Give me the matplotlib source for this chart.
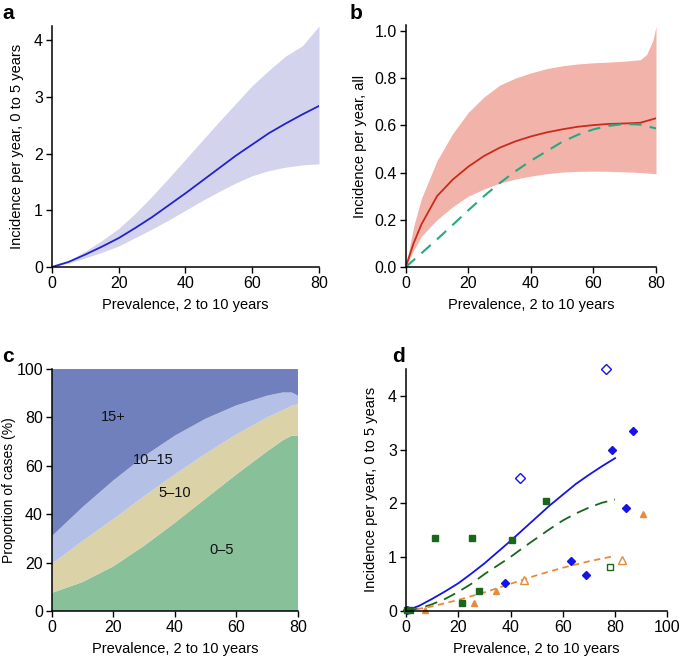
import numpy as np
import matplotlib
matplotlib.use('Agg')
import matplotlib.pyplot as plt

plt.rcParams['font.family'] = ['Liberation Sans', 'DejaVu Sans']

# ---- panel a: incidence 0-5 years vs prevalence ----
prev_a = [0, 5, 10, 15, 20, 25, 30, 35, 40, 45, 50, 55, 60, 65, 70, 75, 80]
inc_a_mean = [0, 0.09, 0.22, 0.36, 0.51, 0.69, 0.88, 1.09, 1.30, 1.52, 1.74, 1.96, 2.16, 2.36, 2.53, 2.69, 2.84]
inc_a_hi = [0, 0.11, 0.28, 0.47, 0.68, 0.95, 1.25, 1.57, 1.90, 2.23, 2.56, 2.88, 3.20, 3.47, 3.72, 3.90, 4.25]
inc_a_lo = [0, 0.07, 0.16, 0.26, 0.37, 0.52, 0.67, 0.83, 1.00, 1.17, 1.33, 1.48, 1.61, 1.70, 1.76, 1.80, 1.82]

# ---- panel b: incidence all ages ----
prev_b = [0, 2.5, 5, 10, 15, 20, 25, 30, 35, 40, 45, 50, 55, 60, 65, 70, 75, 77, 79, 80]
inc_b_hi = [0, 0.17, 0.29, 0.45, 0.565, 0.655, 0.72, 0.77, 0.80, 0.822, 0.84, 0.852, 0.86, 0.865, 0.868, 0.872, 0.878, 0.90, 0.96, 1.02]
inc_b_lo = [0, 0.07, 0.13, 0.20, 0.255, 0.30, 0.33, 0.355, 0.372, 0.385, 0.395, 0.402, 0.405, 0.406, 0.405, 0.403, 0.40, 0.398, 0.396, 0.395]
prev_b_line = [0, 2.5, 5, 10, 15, 20, 25, 30, 35, 40, 45, 50, 55, 60, 65, 70, 75, 80]
inc_b_mean = [0, 0.10, 0.18, 0.30, 0.37, 0.425, 0.47, 0.505, 0.532, 0.553, 0.57, 0.583, 0.594, 0.601, 0.606, 0.608, 0.611, 0.63]
inc_b_alt = [0, 0.029, 0.058, 0.117, 0.178, 0.24, 0.30, 0.355, 0.405, 0.45, 0.49, 0.53, 0.56, 0.583, 0.598, 0.606, 0.603, 0.587]

# ---- panel c: proportion of cases by age group ----
prev_c = [0, 10, 20, 30, 40, 50, 60, 70, 75, 78, 80]
share_0_5 = [7.5, 12, 18.5, 27, 36.5, 46.5, 56.5, 66, 70.5, 72.5, 72.3]
share_5_10 = [12, 17, 19.5, 20.5, 20, 18.5, 16.5, 14, 12.5, 12.3, 13.2]
share_10_15 = [11.5, 14, 16, 16.5, 16, 14.5, 12, 9, 7.3, 5.5, 3.5]
share_15p = [69, 57, 46, 36, 27.5, 20.5, 15, 11, 9.7, 9.7, 11]
age_groups = ['0\u20135', '5\u201310', '10\u201315', '15+']

# ---- panel d: observed incidence 0-5 years ----
prev_d_line = [0, 5, 10, 15, 20, 25, 30, 35, 40, 45, 50, 55, 60, 65, 70, 75, 80]
fit_blue = [0, 0.09, 0.22, 0.36, 0.51, 0.69, 0.88, 1.09, 1.30, 1.52, 1.74, 1.96, 2.16, 2.36, 2.53, 2.69, 2.84]
fit_green = [0, 0.04, 0.12, 0.22, 0.35, 0.50, 0.68, 0.84, 1.00, 1.18, 1.35, 1.52, 1.68, 1.81, 1.92, 2.01, 2.07]
fit_orange = [0, 0.035, 0.08, 0.14, 0.20, 0.27, 0.34, 0.42, 0.50, 0.58, 0.66, 0.73, 0.80, 0.86, 0.92, 0.97, 1.02]

blue_fill_x = [0.5, 38, 63.1, 69, 79, 84, 86.9]
blue_fill_y = [0.02, 0.51, 0.93, 0.67, 2.99, 1.91, 3.35]
blue_open_x = [43.75, 76.5]
blue_open_y = [2.47, 4.50]
green_fill_x = [0.25, 1.5, 11.25, 21.4, 25.1, 27.9, 40.4, 53.6]
green_fill_y = [0.02, 0.02, 1.35, 0.15, 1.35, 0.36, 1.32, 2.04]
green_open_x = [78]
green_open_y = [0.81]
orange_fill_x = [7.4, 25.9, 34.4, 90.6]
orange_fill_y = [0.01, 0.15, 0.37, 1.80]
orange_open_x = [45.25, 82.75]
orange_open_y = [0.58, 0.94]

xlab = 'Prevalence, 2 to 10 years'
LAB = 10.5
TICK = 11.5

fig = plt.figure(figsize=(6.85, 6.63), dpi=100)
ax_a = fig.add_axes([0.0759, 0.5973, 0.3898, 0.3635])
ax_b = fig.add_axes([0.5923, 0.5973, 0.3654, 0.3650])
ax_c = fig.add_axes([0.0759, 0.0784, 0.3591, 0.3650])
ax_d = fig.add_axes([0.5927, 0.0789, 0.3815, 0.3645])

def style(ax):
    for s in ['top', 'right']:
        ax.spines[s].set_visible(False)
    for s in ['left', 'bottom']:
        ax.spines[s].set_linewidth(1.1)
    ax.tick_params(direction='out', length=4, width=1.0, labelsize=TICK, pad=2.5)
    ax.set_xlabel(xlab, fontsize=LAB, labelpad=5)

# a
ax_a.fill_between(prev_a, inc_a_lo, inc_a_hi, color='#d3d3ee', lw=0)
ax_a.plot(prev_a, inc_a_mean, color='#2323cc', lw=1.3)
ax_a.set_xlim(0, 80)
ax_a.set_ylim(0, 4.25)
ax_a.set_xticks([0, 20, 40, 60, 80])
ax_a.set_yticks([0, 1, 2, 3, 4])
ax_a.set_ylabel('Incidence per year, 0 to 5 years', fontsize=LAB, labelpad=7)
style(ax_a)

# b
ax_b.fill_between(prev_b, inc_b_lo, inc_b_hi, color='#f2b4aa', lw=0)
ax_b.plot(prev_b_line, inc_b_mean, color='#cc2a1a', lw=1.3)
ax_b.plot(prev_b_line, inc_b_alt, color='#25aa80', lw=1.5, dashes=(6, 4))
ax_b.set_xlim(0, 80)
ax_b.set_ylim(0, 1.025)
ax_b.set_xticks([0, 20, 40, 60, 80])
ax_b.set_yticks([0, 0.2, 0.4, 0.6, 0.8, 1.0])
ax_b.set_yticklabels(['0.0', '0.2', '0.4', '0.6', '0.8', '1.0'])
ax_b.set_ylabel('Incidence per year, all', fontsize=LAB, labelpad=5)
style(ax_b)

# c
ax_c.stackplot(prev_c, share_0_5, share_5_10, share_10_15, share_15p,
               colors=['#88c09a', '#dcd2a8', '#b4c0e6', '#7080bc'], lw=0)
ax_c.set_xlim(0, 80)
ax_c.set_ylim(0, 100)
ax_c.set_xticks([0, 20, 40, 60, 80])
ax_c.set_yticks([0, 20, 40, 60, 80, 100])
style(ax_c)
ax_c.set_ylabel('Proportion of cases (%)', fontsize=10, labelpad=0.5)
for lab, (tx, ty) in zip(age_groups, [(55.2, 25.2), (40, 48.7), (33, 62.5), (19.9, 80)]):
    ax_c.text(tx, ty, lab, fontsize=10.5, ha='center', va='center', color='#111111')

# d
ax_d.plot(prev_d_line, fit_blue, color='#1414e6', lw=1.3)
ax_d.plot(prev_d_line, fit_green, color='#1a661a', lw=1.3, dashes=(7, 4))
ax_d.plot(prev_d_line, fit_orange, color='#e88a3c', lw=1.3, dashes=(3.5, 2.5))
ax_d.plot(blue_fill_x, blue_fill_y, 'D', color='#1414e6', ms=4.5, clip_on=False)
ax_d.plot(blue_open_x, blue_open_y, 'D', mfc='white', mec='#1414e6', mew=1, ms=5, clip_on=False)
ax_d.plot(green_fill_x, green_fill_y, 's', color='#1a661a', ms=4.5, clip_on=False)
ax_d.plot(green_open_x, green_open_y, 's', mfc='white', mec='#1a661a', mew=1, ms=4.5, clip_on=False)
ax_d.plot(orange_fill_x, orange_fill_y, '^', color='#e88a3c', ms=5, clip_on=False)
ax_d.plot(orange_open_x, orange_open_y, '^', mfc='white', mec='#e88a3c', mew=1, ms=5.5, clip_on=False)
ax_d.set_xlim(0, 100)
ax_d.set_ylim(0, 4.5)
ax_d.set_xticks([0, 20, 40, 60, 80, 100])
ax_d.set_yticks([0, 1, 2, 3, 4])
ax_d.set_ylabel('Incidence per year, 0 to 5 years', fontsize=LAB, labelpad=7)
style(ax_d)

for lab, (px, py) in zip('abcd', [(2, 19), (350, 19), (2, 362), (392, 362)]):
    fig.text(px / 685, 1 - py / 663, lab, fontsize=15, fontweight='bold', ha='left', va='baseline')

fig.savefig('out.png', dpi=100)
